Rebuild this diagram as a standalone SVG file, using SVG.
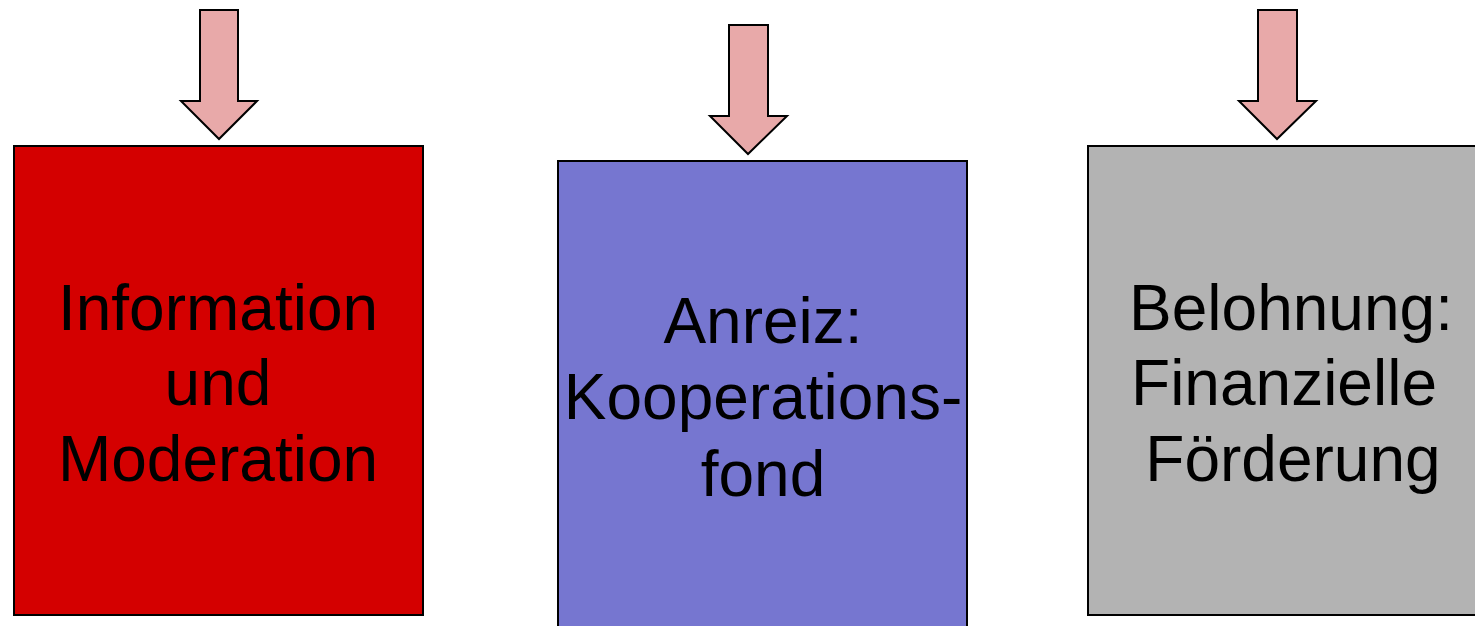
<svg xmlns="http://www.w3.org/2000/svg" width="1475" height="626" viewBox="0 0 1475 626">
<style>
.box{stroke:#000;stroke-width:2}
.arr{fill:#e8a9a9;stroke:#000;stroke-width:2;stroke-linejoin:miter}
text{font-family:"Liberation Sans",Arial,sans-serif;font-size:64px;fill:#000;text-anchor:middle}
</style>
<rect width="1475" height="626" fill="#fff"/>
<g id="connectors">
<polygon class="arr" points="200,10 238,10 238,101 257,101 219,139 181,101 200,101"/>
<polygon class="arr" points="729,25 768,25 768,116 787,116 748,154 710,116 729,116"/>
<polygon class="arr" points="1258,10 1297,10 1297,101 1316,101 1277,139 1239,101 1258,101"/>
</g>
<g id="node1">
<rect class="box" x="14" y="146" width="409" height="469" fill="#d40000"/>
<text x="218" y="330">Information</text>
<text x="218" y="405">und</text>
<text x="218" y="481">Moderation</text>
</g>
<g id="node2">
<rect class="box" x="558" y="161" width="409" height="480" fill="#7676d0"/>
<text x="763" y="343">Anreiz:</text>
<text x="763" y="419">Kooperations-</text>
<text x="763" y="496">fond</text>
</g>
<g id="node3">
<rect class="box" x="1088" y="146" width="400" height="469" fill="#b3b3b3"/>
<text x="1291" y="330">Belohnung:</text>
<text x="1284" y="405">Finanzielle</text>
<text x="1293" y="481">Förderung</text>
</g>
</svg>
